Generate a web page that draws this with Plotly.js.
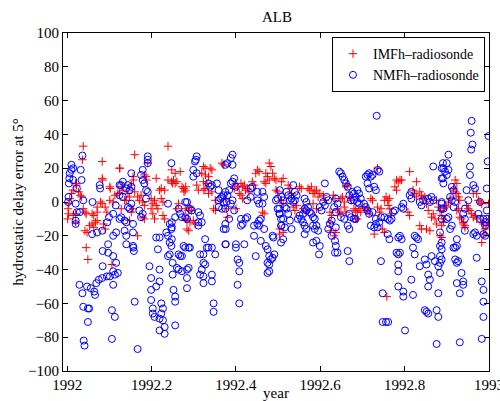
<!DOCTYPE html>
<html>
<head>
<meta charset="utf-8">
<script src="https://cdn.plot.ly/plotly-3.0.1.min.js"></script>
<style>html,body{margin:0;padding:0;background:#fff;}#chart{width:500px;height:401px;}</style>
</head>
<body>
<div id="chart"></div>
<script>
// IMFh - radiosonde (red +)
const imfYear = [
1992.038,1992.036,1992.083,1992.125,1992.083,1992.084,1992.101,1992.102,1992.020,1992.022,1992.014,1992.010,1992.006,1992.027,1992.031,1992.034,1992.004,1992.002,1992.003,1992.001,1992.020,1992.014,1992.038,1992.042,1992.045,1992.059,1992.063,1992.071,1992.079,1992.083,1992.090,1992.094,1992.101,1992.109,1992.113,1992.120,1992.020,1992.042,1992.047,1992.053,1992.059,1992.063,1992.067,1992.071,1992.086,1992.090,1992.045,1992.049,1992.106,1992.071,
1992.239,1992.160,1992.191,1992.124,1992.156,1992.157,1992.183,1992.187,1992.188,1992.211,1992.239,1992.247,1992.250,1992.219,1992.223,1992.231,1992.128,1992.132,1992.124,1992.152,1992.160,1992.144,1992.148,1992.140,1992.167,1992.171,1992.175,1992.179,1992.183,1992.199,1992.203,1992.207,1992.211,1992.215,1992.223,1992.227,1992.156,1992.152,1992.199,1992.203,1992.207,1992.179,1992.183,1992.227,1992.231,1992.148,1992.167,1992.128,1992.136,
1992.248,1992.256,1992.252,1992.268,1992.256,1992.260,1992.272,1992.276,1992.280,1992.277,1992.281,1992.323,1992.327,1992.339,1992.343,1992.319,1992.328,1992.335,1992.323,1992.331,1992.324,1992.327,1992.335,1992.343,1992.307,1992.311,1992.367,1992.371,1992.351,1992.347,1992.352,1992.375,1992.378,1992.260,1992.264,1992.280,1992.288,1992.291,1992.280,1992.284,1992.291,1992.303,1992.299,1992.284,1992.288,1992.295,
1992.451,1992.455,1992.447,1992.479,1992.483,1992.471,1992.475,1992.479,1992.487,1992.491,1992.495,1992.467,1992.471,1992.400,1992.404,1992.396,1992.412,1992.416,1992.420,1992.423,1992.427,1992.431,1992.443,1992.439,1992.408,1992.412,1992.416,1992.400,1992.463,1992.467,1992.495,1992.499,1992.503,1992.380,
1992.512,1992.508,1992.524,1992.528,1992.532,1992.551,1992.555,1992.571,1992.575,1992.579,1992.583,1992.587,1992.591,1992.595,1992.599,1992.607,1992.611,1992.631,1992.635,1992.508,1992.512,1992.536,1992.540,1992.544,1992.559,1992.567,1992.583,1992.591,1992.623,1992.627,1992.623,1992.624,1992.504,1992.512,
1992.736,1992.661,1992.665,1992.649,1992.653,1992.657,1992.669,1992.673,1992.641,1992.645,1992.649,1992.657,1992.661,1992.680,1992.684,1992.688,1992.692,1992.696,1992.684,1992.688,1992.704,1992.708,1992.712,1992.716,1992.720,1992.724,1992.736,1992.740,1992.744,1992.752,1992.756,1992.760,1992.764,1992.748,1992.752,1992.637,1992.633,1992.758,1992.728,
1992.812,1992.781,1992.785,1992.789,1992.793,1992.828,1992.777,1992.781,1992.820,1992.824,1992.828,1992.836,1992.840,1992.844,1992.848,1992.852,1992.856,1992.876,1992.880,1992.884,1992.888,1992.891,1992.761,1992.765,1992.769,1992.808,1992.812,1992.836,1992.840,1992.852,1992.860,1992.872,1992.876,1992.884,1992.888,1992.868,1992.864,
1992.920,1992.924,1992.916,1992.920,1992.924,1992.928,1992.931,1992.896,1992.900,1992.892,1992.908,1992.904,1992.924,1992.928,1992.931,1992.935,1992.939,1992.943,1992.939,1992.943,1992.947,1992.951,1992.955,1992.959,1992.963,1992.967,1992.971,1992.975,1992.979,1992.983,1992.983,1992.987,1992.995,1992.991,1992.987,1992.983,1992.888,1992.892,1992.999,1992.999,1992.971,1992.963
];
const imfErr = [
33,25,24,20,14,13,9,8,11,10,7,5,2,6,4,3,-1,-4,-7,-10,-7,-8,-4,-6,-7,-7,-8,-3,0,-1,-3,-6,1,0,4,5,-12,-17,-18,-14,-13,-15,-12,-11,-13,-16,-27,-34,-37,-6,
33,28,23,20,15,13,16,15,13,14,13,12,11,7,8,7,9,7,5,10,6,5,3,1,3,1,4,0,-2,2,-1,1,-2,-4,2,0,-4,-6,-4,-7,-10,-9,-10,-8,-10,-11,-20,-4,1,
19,17,13,18,11,12,9,8,7,6,9,21,20,20,19,17,16,15,12,11,7,8,5,6,10,7,23,22,1,-4,-5,2,-4,-4,-1,-4,-5,-3,-10,-11,-12,-13,-11,-16,-17,-5,
19,18,17,23,21,17,15,13,17,14,13,12,11,11,9,8,11,9,10,7,8,6,10,12,5,4,2,-4,-6,-7,7,6,-19,-9,
14,12,10,8,5,9,8,8,7,9,5,6,7,3,5,4,1,4,2,1,-1,-3,-5,-2,-4,-6,-1,-4,-6,-8,-12,-17,-16,-18,
20,9,10,2,3,0,3,1,-4,-6,-7,-3,-6,-4,-5,-6,-4,-6,-10,-10,-3,-5,-4,-7,2,1,-3,-6,-4,1,3,1,2,-16,-18,-18,-20,-56,-19,
18,13,12,13,13,12,9,7,7,5,3,6,4,2,3,-1,-5,1,-3,-5,-8,-10,-2,-4,-7,-6,-8,-14,-16,-16,-17,-10,-13,-20,-21,-7,-9,
13,11,8,6,5,3,1,-2,-3,-4,2,0,-5,-4,-9,-10,-12,-14,-13,-15,-2,-4,-5,-7,-9,-8,-10,1,0,-1,-12,-13,-14,-16,-19,-24,-14,-12,-1,-10,5,5
];
// NMFh - radiosonde (blue o)
const nmfYear = [
1992.036,1992.010,1992.010,1992.006,1992.014,1992.005,1992.004,1992.003,1992.002,1992.014,1992.032,1992.034,1992.023,1992.020,1992.023,1992.020,1992.020,1992.030,1992.038,1992.060,1992.077,1992.078,1992.059,1992.071,1992.083,1992.095,1992.099,1992.109,1992.115,1992.116,1992.109,1992.097,1992.084,1992.097,1992.109,1992.116,1992.084,1992.109,1992.101,1992.094,1992.083,1992.075,1992.069,1992.113,1992.109,1992.029,1992.047,1992.056,1992.064,1992.066,1992.036,1992.038,1992.049,1992.052,1992.049,1992.106,1992.113,1992.039,1992.041,1992.106,
1992.191,1992.191,1992.191,1992.179,1992.152,1992.132,1992.124,1992.128,1992.144,1992.140,1992.152,1992.148,1992.175,1992.179,1992.183,1992.187,1992.191,1992.187,1992.132,1992.124,1992.152,1992.144,1992.148,1992.171,1992.179,1992.175,1992.124,1992.128,1992.136,1992.140,1992.156,1992.136,1992.140,1992.156,1992.140,1992.156,1992.157,1992.158,1992.120,1992.160,1992.167,1992.195,1992.199,1992.199,1992.199,1992.203,1992.203,1992.207,1992.211,1992.219,1992.219,1992.215,1992.223,1992.227,1992.223,1992.219,1992.227,1992.219,1992.231,1992.231,1992.211,1992.219,1992.235,1992.239,1992.243,1992.247,1992.243,1992.247,1992.243,1992.239,1992.250,1992.250,1992.239,1992.247,
1992.307,1992.305,1992.303,1992.299,1992.307,1992.299,1992.335,1992.339,1992.343,1992.355,1992.359,1992.375,1992.359,1992.363,1992.367,1992.371,1992.375,1992.371,1992.378,1992.359,1992.367,1992.375,1992.280,1992.284,1992.291,1992.295,1992.264,1992.268,1992.272,1992.280,1992.284,1992.256,1992.311,1992.315,1992.311,1992.319,1992.311,1992.248,1992.248,1992.248,1992.276,1992.280,1992.288,1992.291,1992.264,1992.268,1992.272,1992.260,1992.264,1992.272,1992.284,1992.288,1992.284,1992.284,1992.327,1992.315,1992.323,1992.331,1992.335,1992.343,1992.351,1992.323,1992.327,1992.319,1992.315,1992.323,1992.323,1992.343,1992.343,1992.347,1992.347,1992.252,1992.256,1992.256,1992.256,1992.371,1992.375,1992.375,
1992.392,1992.388,1992.392,1992.380,1992.396,1992.392,1992.388,1992.384,1992.380,1992.400,1992.392,1992.388,1992.396,1992.384,1992.376,1992.376,1992.412,1992.412,1992.416,1992.427,1992.423,1992.420,1992.400,1992.400,1992.404,1992.408,1992.408,1992.404,1992.408,1992.427,1992.435,1992.439,1992.435,1992.451,1992.451,1992.455,1992.463,1992.467,1992.463,1992.443,1992.451,1992.455,1992.459,1992.455,1992.467,1992.443,1992.459,1992.447,1992.471,1992.475,1992.479,1992.483,1992.487,1992.491,1992.475,1992.479,1992.475,1992.479,1992.487,1992.489,1992.495,1992.499,1992.499,1992.503,1992.503,1992.507,1992.507,1992.507,
1992.536,1992.504,1992.508,1992.512,1992.520,1992.524,1992.528,1992.532,1992.536,1992.540,1992.544,1992.540,1992.516,1992.520,1992.524,1992.504,1992.512,1992.508,1992.516,1992.512,1992.528,1992.532,1992.547,1992.551,1992.555,1992.559,1992.563,1992.567,1992.571,1992.567,1992.563,1992.575,1992.579,1992.583,1992.587,1992.559,1992.563,1992.567,1992.563,1992.583,1992.587,1992.591,1992.595,1992.583,1992.591,1992.599,1992.597,1992.599,1992.607,1992.603,1992.611,1992.615,1992.619,1992.627,1992.623,1992.619,1992.627,1992.635,1992.635,1992.611,
1992.734,1992.645,1992.649,1992.653,1992.657,1992.661,1992.665,1992.669,1992.673,1992.676,1992.680,1992.684,1992.688,1992.692,1992.680,1992.688,1992.692,1992.708,1992.712,1992.716,1992.720,1992.724,1992.736,1992.740,1992.712,1992.716,1992.728,1992.732,1992.696,1992.704,1992.708,1992.637,1992.641,1992.633,1992.637,1992.649,1992.657,1992.669,1992.673,1992.680,1992.684,1992.665,1992.669,1992.637,1992.712,1992.716,1992.724,1992.720,1992.728,1992.732,1992.736,1992.732,1992.740,1992.744,1992.752,1992.760,1992.760,1992.764,1992.637,1992.641,1992.665,1992.669,1992.744,1992.748,1992.748,1992.756,
1992.868,1992.891,1992.888,1992.891,1992.816,1992.812,1992.816,1992.797,1992.793,1992.797,1992.836,1992.840,1992.844,1992.856,1992.860,1992.864,1992.868,1992.888,1992.888,1992.765,1992.769,1992.773,1992.777,1992.785,1992.789,1992.793,1992.781,1992.785,1992.789,1992.785,1992.785,1992.824,1992.828,1992.832,1992.820,1992.824,1992.836,1992.848,1992.852,1992.856,1992.860,1992.856,1992.864,1992.872,1992.880,1992.884,1992.884,1992.888,1992.888,1992.880,1992.876,1992.880,1992.876,1992.785,1992.797,1992.797,1992.820,1992.816,1992.801,1992.848,1992.852,1992.856,1992.761,
1992.959,1992.957,1992.961,1992.958,1992.999,1992.997,1992.995,1992.995,1992.995,1992.991,1992.991,1992.983,1992.987,1992.987,1992.987,1992.983,1992.931,1992.931,1992.924,1992.935,1992.939,1992.939,1992.927,1992.924,1992.920,1992.920,1992.924,1992.916,1992.924,1992.908,1992.912,1992.900,1992.904,1992.888,1992.892,1992.888,1992.884,1992.884,1992.888,1992.884,1992.900,1992.892,1992.896,1992.904,1992.900,1992.904,1992.888,1992.892,1992.912,1992.916,1992.908,1992.912,1992.920,1992.916,1992.955,1992.955,1992.963,1992.967,1992.947,1992.951,1992.943,1992.939,1992.943,1992.963,1992.967,1992.971,1992.971,1992.979,1992.975,1992.979,1992.987,1992.991,1992.987,1992.943
];
const nmfErr = [
27.5,22,19,17,20,14,11,3,0,13,19,13,8,-1,-6,-11,-13,-6,1,0,10,8,-19,-18,-17,-12,-9,-7,-2,-18,-20,-25,-29,-30,-32,-36,-38,-41,-44,-44,-45,-46,-48,-43,-49,-49,-50,-51,-53,-55,-54,-62,-63,-63,-71,-64,-68,-82,-85,-81,
27,25,23,19,17,12,10,10,10,8,9,7,16,13,11,7,6,2,3,4,-1,-3,-4,-5,-7,-9,-10,-9,-11,-12,-13,-17,-20,-18,-25,-26,-27,-29,-42,-59,-87,-38,-45,-52,-58,-63,-66,-68,-50,-40,-47,-28,-60,-63,-66,-69,-70,-76,-74,-78,-21,-21,-18,-20,-13,-16,-24,-26,-31,-32,-36,-43,-1,23,
27,25,24,19,17,15,11,9,10,11,7,22,1,2,3,4,6,0,0,-3,-4,-4,0,0,-4,-5,-4,-7,-9,-9,-10,-9,-6,-8,-12,-12,-14,-12,-15,-22,-26,-27,-27,-27,-31,-32,-32,-39,-40,-41,-40,-39,-45,-51,-22,-31,-31,-27,-27,-27,-31,-36,-37,-40,-43,-44,-48,-43,-47,-60,-65,-52,-56,-59,-73,-16,-13,-25,
28,26,22,23,14,12,11,7,4,9,1,-1,-5,-10,-16,-25,-10,-14,-13,-9,-10,-25,-25,-27,-34,-36,-41,-49,-60,1,3,9,8,6,1,-1,6,3,-1,-14,-13,-11,-10,-14,-16,-20,-23,-32,-26,-28,-32,-34,-33,-31,-36,-37,-42,-41,-20,-21,1,2,-4,-4,-7,-10,-14,-24,
10,7,3,1,6,4,1,2,0,6,4,1,-3,-4,-7,-7,-10,-14,-15,-22,-11,-16,-10,-8,-10,-7,-4,-5,-3,0,2,-6,-7,-9,-10,-12,-14,-16,-19,-14,-16,-14,-17,-24,-23,-26,-31,-3,0,-5,11,3,1,-11,-13,-16,-20,-23,-30,-2,
51,18,17,15,13,11,9,4,1,6,5,3,7,5,1,0,-1,15,16,17,15,16,19,18,11,8,9,7,2,-1,-3,2,-1,-3,-6,-9,-10,-7,-9,-10,-10,-14,-16,-15,-5,-7,-6,-14,-15,-13,-15,-10,-12,-9,-9,-10,-19,-22,-26,-30,-29,-35,-35,-54,-71,-71,
21,23,20,14,6,4,2,-1,-3,-4,0,-2,1,2,0,3,1,0,-4,-11,-10,-6,-5,-21,-20,-22,-30,-31,-30,-37,-41,-20,-21,-22,-27,-31,-38,-34,-37,-43,-46,-50,-32,-35,-38,-36,-32,-28,-24,-54,-64,-68,-84,-50,-53,-56,-55,-46,-76,-64,-65,-66,-71,
48,41,34,31,39,24,8,-5,-10,-14,-20,-47,-52,-59,-68,-81,-83,-54,-48,-42,-47,-49,-35,-36,-34,-27,-26,-27,-22,-16,-14,-10,-9,-1,-4,-10,-18,-26,-34,-42,23,20,18,19,16,28,14,11,9,7,3,1,0,-3,21,16,10,8,7,1,-4,-7,-10,-19,-18,-20,-33,0,-7,-10,-10,-12,-19,-17
];
const xTickVals = [1992, 1992.2, 1992.4, 1992.6, 1992.8, 1993];
const xTickText = ['1992', '1992.2', '1992.4', '1992.6', '1992.8', '1993'];
const yTickVals = [-100, -80, -60, -40, -20, 0, 20, 40, 60, 80, 100];

const serif = 'Liberation Serif, Times New Roman, serif';
const traces = [
  {x: imfYear, y: imfErr, type: 'scatter', mode: 'markers', name: 'IMFh\u2013radiosonde',
   marker: {symbol: 'cross-thin-open', size: 6, color: '#ff0000', line: {color: '#ff0000', width: 1}}},
  {x: nmfYear, y: nmfErr, type: 'scatter', mode: 'markers', name: 'NMFh\u2013radiosonde',
   marker: {symbol: 'circle-open', size: 7, color: '#0000ff', line: {color: '#0000ff', width: 1}}}
];
const axisCommon = {
  showline: true, linecolor: '#000', linewidth: 1, mirror: 'ticks',
  ticks: 'inside', ticklen: 5, tickcolor: '#000', tickwidth: 1,
  showgrid: false, zeroline: false, ticklabeloverflow: 'allow',
  tickfont: {family: serif, size: 15, color: '#000'}
};
const layout = {
  width: 500, height: 401,
  margin: {l: 63, r: 11, t: 33, b: 30},
  paper_bgcolor: '#fff', plot_bgcolor: '#fff',
  showlegend: true,
  title: {text: 'ALB', font: {family: serif, size: 15, color: '#000'}, x: 0.554, xanchor: 'center', y: 0.957, yref: 'container', yanchor: 'middle'},
  xaxis: Object.assign({}, axisCommon, {range: [1991.99, 1993.0002], tickvals: xTickVals, ticktext: xTickText,
    title: {text: 'year', font: {family: serif, size: 15, color: '#000'}, standoff: 2}}),
  yaxis: Object.assign({}, axisCommon, {range: [-100, 100], tickvals: yTickVals,
    title: {text: 'hydrostatic delay error at 5\u00b0', font: {family: serif, size: 15, color: '#000'}, standoff: 0}}),
  legend: {x: 0.9906, xanchor: 'right', y: 0.988, yanchor: 'top', bgcolor: '#fff', bordercolor: '#000', borderwidth: 1,
    font: {family: serif, size: 14, color: '#000'}, tracegroupgap: 0, itemwidth: 30}
};
Plotly.newPlot('chart', traces, layout, {staticPlot: true, displayModeBar: false});
</script>
</body>
</html>
